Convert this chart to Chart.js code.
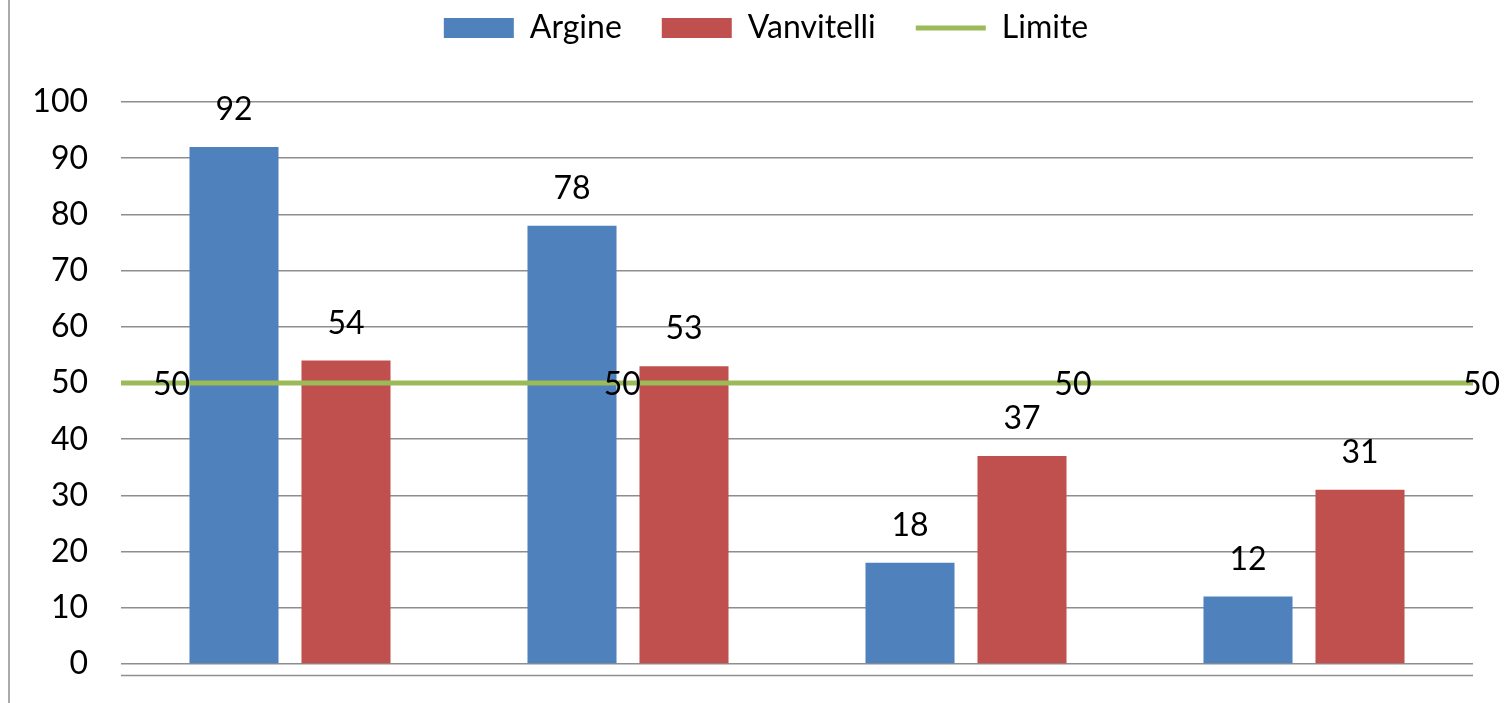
<!DOCTYPE html>
<html>
<head>
<meta charset="utf-8">
<title>Argine / Vanvitelli</title>
<script src="https://cdn.jsdelivr.net/npm/chart.js@4.4.0/dist/chart.umd.min.js"></script>
<style>
    html, body { margin: 0; padding: 0; background: #fff; }
</style>
</head>
<body>
<canvas id="grafico" width="1507" height="703"></canvas>
<script>
    "use strict";

    // Dati del grafico
    var categorie = ["", "", "", ""];
    var argine = [92, 78, 18, 12];
    var vanvitelli = [54, 53, 37, 31];
    var limite = [50, 50, 50, 50];
    var tacche = [0, 10, 20, 30, 40, 50, 60, 70, 80, 90, 100];

    var BLU = "#4F81BD", ROSSO = "#C0504D", VERDE = "#9BBB59", GRIGIO = "#8e8e8e";
    var FONT = "Lato, 'Open Sans', sans-serif";

    Chart.defaults.font.family = FONT;
    Chart.defaults.font.size = 32;
    Chart.defaults.color = "#000";

    // Etichette dei valori sopra le barre e accanto ai punti della linea
    var etichette = {
        id: "etichette",
        afterDatasetsDraw: function (chart) {
            var ctx = chart.ctx;
            ctx.save();
            ctx.font = "32px " + FONT;
            ctx.fillStyle = "#000";
            ctx.textBaseline = "middle";
            chart.data.datasets.forEach(function (ds, i) {
                chart.getDatasetMeta(i).data.forEach(function (el, j) {
                    var testo = String(ds.data[j]);
                    if (ds.type === "line") {
                        var w = ctx.measureText(testo).width;
                        ctx.textAlign = "left";
                        ctx.fillText(testo, Math.min(el.x + 32, chart.width - w - 7), el.y + 2);
                    } else {
                        ctx.textAlign = "center";
                        ctx.fillText(testo, el.x, el.y - 37);
                    }
                });
            });
            ctx.restore();
        }
    };

    // Bordo sinistro del riquadro e linea dell'asse orizzontale
    var cornice = {
        id: "cornice",
        beforeDatasetsDraw: function (chart) {
            var ctx = chart.ctx, a = chart.chartArea;
            ctx.save();
            ctx.strokeStyle = GRIGIO;
            ctx.lineWidth = 1.5;
            ctx.beginPath();
            ctx.moveTo(9, 0);
            ctx.lineTo(9, chart.height);
            ctx.moveTo(a.left, a.bottom + 11.5);
            ctx.lineTo(a.right, a.bottom + 11.5);
            ctx.stroke();
            ctx.restore();
        }
    };

    // la legenda va un po' più a destra del centro della tela
    var spostaLegenda = {
        id: "spostaLegenda",
        afterLayout: function (chart) {
            chart.legend.left += 13.5;
            chart.legend.right += 13.5;
        }
    };

    // assi orizzontali presenti ma senza nulla di visibile
    var asseMuto = {
        grid: { display: false, drawTicks: false },
        border: { display: false },
        ticks: { display: false }
    };

    // Con due assi x Chart.js divide ogni categoria in 4 fasce
    // (2 barre x 2 assi): la linea sta sul primo asse, così le barre
    // finiscono nelle due fasce centrali. Da qui categoryPercentage > 1.
    var ctx1 = document.getElementById("grafico").getContext("2d");
    new Chart(ctx1, {
        type: "bar",
        data: {
            labels: categorie,
            datasets: [
                {
                    type: "line",
                    label: "Limite",
                    data: limite,
                    xAxisID: "x2",
                    borderColor: VERDE,
                    backgroundColor: VERDE,
                    borderWidth: 5,
                    pointRadius: 0,
                    pointStyle: "line"
                },
                {
                    label: "Argine",
                    data: argine,
                    xAxisID: "x",
                    backgroundColor: BLU,
                    pointStyle: "rect",
                    categoryPercentage: 1.3254,
                    barPercentage: 0.795
                },
                {
                    label: "Vanvitelli",
                    data: vanvitelli,
                    xAxisID: "x",
                    backgroundColor: ROSSO,
                    pointStyle: "rect",
                    categoryPercentage: 1.3254,
                    barPercentage: 0.795
                }
            ]
        },
        options: {
            responsive: false,
            animation: false,
            layout: {
                padding: { top: -28, left: 32, right: 34, bottom: 39 }
            },
            scales: {
                x: Object.assign({ type: "category", offset: true }, asseMuto),
                x2: Object.assign({ type: "category", offset: false, position: "bottom" }, asseMuto),
                y: {
                    min: tacche[0],
                    max: tacche[tacche.length - 1],
                    afterFit: function (scale) {
                        scale.width = 89;
                        scale.paddingBottom = 0;
                    },
                    border: { display: false },
                    grid: { color: GRIGIO, lineWidth: 1.5, drawTicks: false },
                    ticks: {
                        stepSize: tacche[1] - tacche[0],
                        padding: 33,
                        color: "#000",
                        font: { size: 32 }
                    }
                }
            },
            plugins: {
                legend: {
                    position: "top",
                    labels: {
                        usePointStyle: true,
                        pointStyleWidth: 70,
                        boxWidth: 70,
                        boxHeight: 20,
                        padding: 40,
                        color: "#000",
                        font: { size: 32 },
                        // Argine, Vanvitelli e poi Limite
                        sort: function (a, b) {
                            return (a.datasetIndex || 3) - (b.datasetIndex || 3);
                        }
                    }
                },
                // spazio vuoto tra legenda e area del grafico
                title: {
                    display: true,
                    text: "",
                    weight: 500,
                    padding: 0,
                    font: { size: 48, lineHeight: 1 }
                },
                tooltip: { enabled: false }
            }
        },
        plugins: [cornice, etichette, spostaLegenda]
    });
</script>
</body>
</html>
